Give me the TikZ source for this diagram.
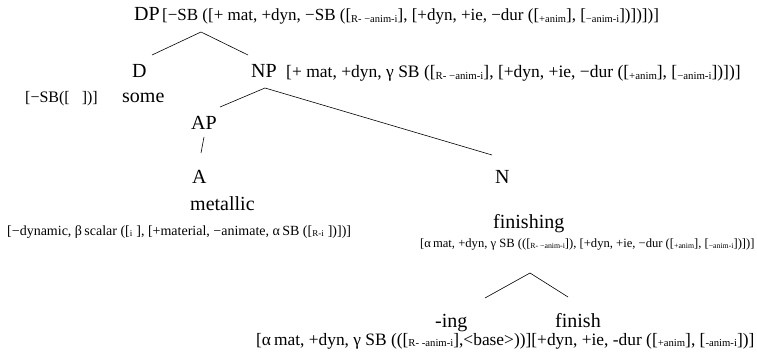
\documentclass[tikz,border=0pt]{standalone}
\usepackage{fontspec}
\setmainfont{Liberation Serif}
\def\subsz{9}
\newcommand{\ssub}[1]{\raisebox{-0.1em}{\fontsize{\subsz}{\subsz}\selectfont #1}}
\begin{document}
\begin{tikzpicture}[x=1pt,y=-1pt,
  cat/.style={anchor=base west,inner sep=0pt,font=\fontsize{20}{22}\selectfont},
  feat/.style={anchor=base west,inner sep=0pt},
  fsize/.style n args={2}{font=\fontsize{#1}{#1}\selectfont\def\subsz{#2}},
  branch/.style={draw=black,line width=0.6pt}]
\useasboundingbox (0,0) rectangle (757,358);
% DP
\node[cat] (DP) at (134,21) {DP};
\node[feat,fsize={17}{10.5}] (DPf) at (162,21) {[−SB ([+ mat, +dyn, −SB ([\ssub{R- −anim-i}], [+dyn, +ie, −dur ([\ssub{+anim}], [\ssub{−anim-i}])])])]};
% D and NP
\node[cat] (D) at (132,78) {D};
\node[cat] (NP) at (251,78) {NP};
\node[feat,fsize={17.5}{10.8}] (NPf) at (286,78) {[+ mat, +dyn, γ SB ([\ssub{R- −anim-i}], [+dyn, +ie, −dur ([\ssub{+anim}], [\ssub{−anim-i}])])]};
\node[feat,fsize={16}{10}] (Df) at (25,103) {[−SB([\hspace{12pt}])]};
\node[cat] (some) at (122,103) {some};
% AP
\node[cat] (AP) at (191,130) {AP};
\node[cat] (A) at (192,184) {A};
\node[cat] (N) at (495,184) {N};
\node[cat] (metallic) at (190,211) {metallic};
\node[feat,fsize={14}{9}] (Af) at (7,235) {[−dynamic, β\,scalar ([\ssub{i}\hspace{4pt}], [+material, −animate, α\,SB ([\ssub{R-i}\hspace{4pt}])])]};
\node[cat] (finishing) at (493,228) {finishing};
\node[feat,fsize={12.6}{7.8}] (Nf) at (420,247) {[α\,mat, +dyn, γ SB (([\ssub{R- −anim-i}]), [+dyn, +ie, −dur ([\ssub{+anim}], [\ssub{−anim-i}])])]};
\node[cat] (ing) at (435,327) {-ing};
\node[cat] (finish) at (555,327) {finish};
\node[feat,fsize={17.4}{10.7}] (bottomf) at (256,345) {[α\,mat, +dyn, γ SB (([\ssub{R- -anim-i}],<base>))][+dyn, +ie, -dur ([\ssub{+anim}], [\ssub{-anim-i}])]};
% branch points
\coordinate (dpApex) at (201,32);
\coordinate (dL) at (152,55);
\coordinate (dR) at (248,55);
\coordinate (npApex) at (265,88);
\coordinate (apTop) at (220,107);
\coordinate (nTop) at (492,155);
\coordinate (apBot) at (204,137);
\coordinate (aTop) at (201,153);
\coordinate (fApex) at (530,273);
\coordinate (ingTop) at (485,298);
\coordinate (finTop) at (568,297);
\draw[branch] (dL) -- (dpApex) -- (dR);
\draw[branch] (apTop) -- (npApex) -- (nTop);
\draw[branch] (apBot) -- (aTop);
\draw[branch] (ingTop) -- (fApex) -- (finTop);
\end{tikzpicture}
\end{document}
